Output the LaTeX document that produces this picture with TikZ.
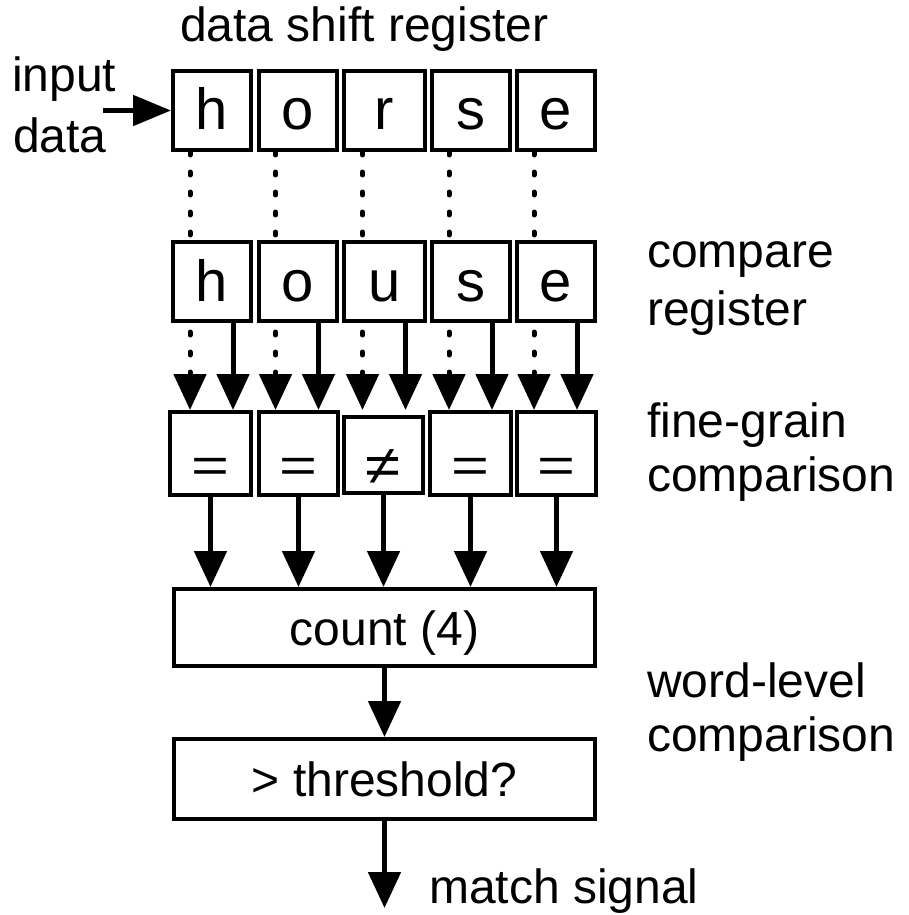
\documentclass[tikz,border=0pt]{standalone}
\usepackage{fontspec}
\setmainfont{Liberation Sans}
\usepackage{graphicx}
\usetikzlibrary{arrows.meta,calc}
\pgfdeclarelayer{background}
\pgfsetlayers{background,main}
\begin{document}
\begin{tikzpicture}[x=1pt,y=-1pt, font=\fontsize{48}{56}\selectfont,
  box/.style={draw, line width=4pt, fill=white, inner sep=0pt},
  cell/.style={box, minimum width=78pt, minimum height=79pt, font=\fontsize{58}{64}\selectfont, text height=39pt, text depth=0pt},
  eqbox/.style={box, minimum height=83pt, font=\fontsize{58}{64}\selectfont, text height=0pt, text depth=0pt},
  wide/.style={box, minimum width=421pt, minimum height=77pt, text height=35pt, text depth=0pt},
  lbl/.style={anchor=base west, inner sep=0pt},
  arr/.style={line width=5pt, -{Triangle[length=36pt,width=32pt]}},
  dotarr/.style={arr, line cap=round, dash pattern=on 3pt off 17pt}]
\useasboundingbox (0,0) rectangle (908,915);

% data shift register
\node[cell] (t1) at (212,110.5) {h};
\node[cell] (t2) at (297.5,110.5) {o};
\node[cell, minimum width=81pt] (t3) at (384.5,110.5) {r};
\node[cell] (t4) at (471,110.5) {s};
\node[cell] (t5) at (556,110.5) {e};

% compare register
\node[cell] (c1) at (212,281.5) {h};
\node[cell] (c2) at (297.5,281.5) {o};
\node[cell, minimum width=81pt] (c3) at (384.5,281.5) {u};
\node[cell] (c4) at (471,281.5) {s};
\node[cell] (c5) at (556,281.5) {e};

% fine-grain comparison
\newcommand{\eqsym}{\raisebox{-29pt}{\scalebox{1.12}[0.85]{=}}}
\node[eqbox, minimum width=81pt] (e1) at (210.5,453.5) {\eqsym};
\node[eqbox, minimum width=79pt] (e2) at (298.5,453.5) {\eqsym};
\node[eqbox, minimum width=79pt, minimum height=76pt] (e3) at (383.5,455) {\raisebox{-29pt}{\scalebox{1.1}[0.95]{≠}}};
\node[eqbox, minimum width=81pt] (e4) at (470.5,453.5) {\eqsym};
\node[eqbox, minimum width=79pt] (e5) at (556.5,453.5) {\eqsym};

% word-level comparison
\node[wide] (cnt) at (384.5,627.5) {count (4)};
\node[wide, minimum height=80pt] (thr) at (384.5,779) {> threshold?};

% labels
\node[lbl] (ltitle) at (180,42) {data shift register};
\node[lbl] (lin1) at (12,92) {input};
\node[lbl] (lin2) at (13,153) {data};
\node[lbl] (lcmp1) at (647,267) {compare};
\node[lbl] (lcmp2) at (647,325) {register};
\node[lbl] (lfg1) at (647,437) {fine-grain};
\node[lbl] (lfg2) at (647,491) {comparison};
\node[lbl] (lwl1) at (647,697) {word-level};
\node[lbl] (lwl2) at (647,751) {comparison};
\node[lbl] (lmatch) at (429,903) {match signal};

% input arrow
\coordinate (inp) at (103,110.5);
\draw[line width=5pt, -{Triangle[length=38pt,width=30pt]}] (inp) -- (t1.west);

% dotted connectors (behind compare register)
\begin{pgfonlayer}{background}
\foreach \i in {1,...,5}{
  \path ([xshift=-22pt]t\i.south) coordinate (d\i);
  \draw[dotarr] (d\i) -- (d\i |- e1.north);
}
\end{pgfonlayer}

% solid connectors from compare register
\foreach \i in {1,...,5}{
  \path ([xshift=21pt]c\i.south) coordinate (s\i);
  \draw[arr] (s\i) -- (s\i |- e1.north);
}

% comparison to count
\foreach \i in {1,...,5}{
  \draw[arr] (e\i.south) -- (e\i.south |- cnt.north);
}

\draw[arr] (cnt.south) -- (thr.north);
\coordinate (out) at (384.5,908);
\draw[arr] (thr.south) -- (out);
\end{tikzpicture}
\end{document}
